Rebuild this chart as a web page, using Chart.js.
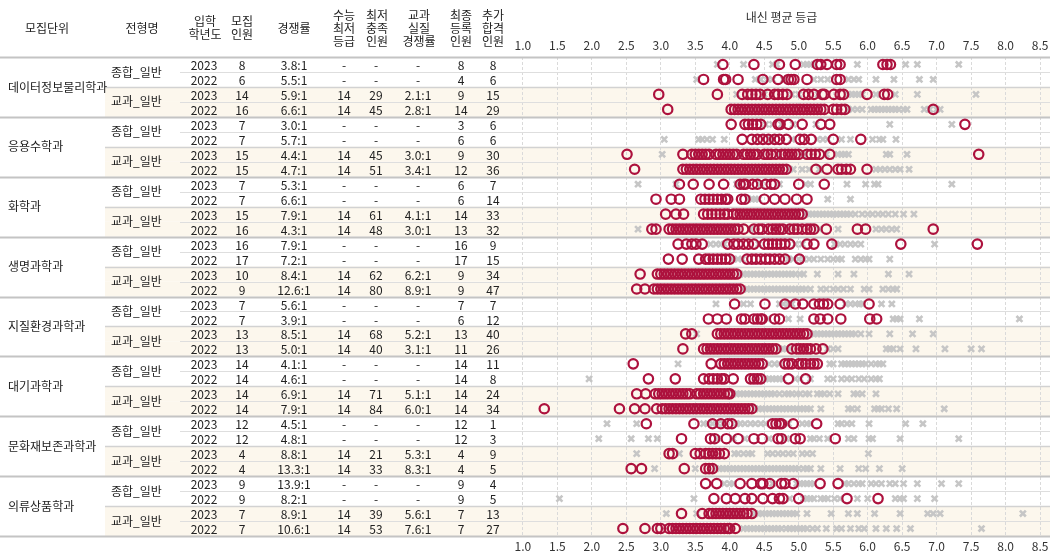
<!DOCTYPE html>
<html>
<head>
<meta charset="utf-8">
<script src="https://cdn.jsdelivr.net/npm/chart.js@4"></script>
<style>
    body { margin: 0; background: #fff; }
    .wrap { width: 1058px; height: 559px; position: relative; }
</style>
</head>
<body>
<div class="wrap"><canvas id="chart"></canvas></div>
<script>
// 표 데이터
const departments = ["데이터정보물리학과", "응용수학과", "화학과", "생명과학과", "지질환경과학과", "대기과학과", "문화재보존과학과", "의류상품학과"]
const tracks = ["종합_일반", "교과_일반"]
const years = [2023, 2022, 2023, 2022, 2023, 2022, 2023, 2022, 2023, 2022, 2023, 2022, 2023, 2022, 2023, 2022, 2023, 2022, 2023, 2022, 2023, 2022, 2023, 2022, 2023, 2022, 2023, 2022, 2023, 2022, 2023, 2022]
const quotas = [8, 6, 14, 16, 7, 7, 15, 15, 7, 7, 15, 16, 16, 17, 10, 9, 7, 7, 13, 13, 14, 14, 14, 14, 12, 12, 4, 4, 9, 9, 7, 7]
const ratios = ["3.8:1", "5.5:1", "5.9:1", "6.6:1", "3.0:1", "5.7:1", "4.4:1", "4.7:1", "5.3:1", "6.6:1", "7.9:1", "4.3:1", "7.9:1", "7.2:1", "8.4:1", "12.6:1", "5.6:1", "3.9:1", "8.5:1", "5.0:1", "4.1:1", "4.6:1", "6.9:1", "7.9:1", "4.5:1", "4.8:1", "8.8:1", "13.3:1", "13.9:1", "8.2:1", "8.9:1", "10.6:1"]
const csatGrades = ["-", "-", 14, 14, "-", "-", 14, 14, "-", "-", 14, 14, "-", "-", 14, 14, "-", "-", 14, 14, "-", "-", 14, 14, "-", "-", 14, 14, "-", "-", 14, 14]
const metCounts = ["-", "-", 29, 45, "-", "-", 45, 51, "-", "-", 61, 48, "-", "-", 62, 80, "-", "-", 68, 40, "-", "-", 71, 84, "-", "-", 21, 33, "-", "-", 39, 53]
const realRatios = ["-", "-", "2.1:1", "2.8:1", "-", "-", "3.0:1", "3.4:1", "-", "-", "4.1:1", "3.0:1", "-", "-", "6.2:1", "8.9:1", "-", "-", "5.2:1", "3.1:1", "-", "-", "5.1:1", "6.0:1", "-", "-", "5.3:1", "8.3:1", "-", "-", "5.6:1", "7.6:1"]
const enrolled = [8, 4, 9, 14, 3, 6, 9, 12, 6, 6, 14, 13, 16, 17, 9, 9, 7, 6, 13, 11, 14, 14, 14, 14, 12, 12, 4, 4, 9, 9, 7, 7]
const extraPassed = [8, 6, 15, 29, 6, 6, 30, 36, 7, 14, 33, 32, 9, 15, 34, 47, 7, 12, 40, 26, 11, 8, 24, 34, 1, 3, 9, 5, 4, 5, 13, 27]

const tickValues = [1.0, 1.5, 2.0, 2.5, 3.0, 3.5, 4.0, 4.5, 5.0, 5.5, 6.0, 6.5, 7.0, 7.5, 8.0, 8.5]

// 합격자(빨강) / 불합격자(회색) 내신 등급, 학과별 4행
const passPhysics = [
    [3.9, 4.35, 4.72, 4.95, 5.27, 5.32, 5.41, 5.55, 5.6, 6.22, 6.28, 6.33],
    [3.62, 3.91, 3.94, 4.12, 4.48, 4.7, 4.85, 4.89, 4.93, 5.12, 5.55, 5.6],
    [2.97, 3.82, 4.18, 4.26, 4.32, 4.38, 4.44, 4.55, 4.65, 4.7, 4.77, 4.83, 5.07, 5.14, 5.22, 5.34, 5.37, 5.51, 5.6, 5.65, 5.99, 6.24, 6.29],
    [3.1, 4.02, 4.07, 4.12, 4.17, 4.22, 4.27, 4.32, 4.37, 4.42, 4.47, 4.52, 4.57, 4.62, 4.67, 4.72, 4.77, 4.82, 4.87, 4.92, 4.97, 5.02, 5.07, 5.12, 5.17, 5.22, 5.27, 5.32, 5.37, 5.5, 5.55, 5.62, 5.67, 6.95]
]
const failPhysics = [
    [3.82, 4.2, 4.62, 4.68, 5.07, 5.12, 5.17, 5.22, 5.85, 6.55, 6.72, 7.32],
    [3.52, 4.37, 4.45, 4.55, 4.62, 4.78, 5.22, 5.32, 5.42, 5.72, 5.8, 5.87, 6.12, 6.38, 6.75, 6.95],
    [4.1, 4.5, 4.9, 5.0, 5.28, 5.72, 5.77, 5.82, 5.87, 5.92, 6.12, 6.4, 6.72, 7.57],
    [5.72, 5.78, 5.85, 5.92, 6.05, 6.1, 6.15, 6.2, 6.25, 6.3, 6.35, 6.4, 6.45, 6.52, 6.57, 6.82, 6.9, 7.0, 7.05]
]
const passMath = [
    [4.02, 4.22, 4.27, 4.33, 4.39, 4.45, 4.7, 4.73, 4.85, 5.05, 5.32, 5.45, 7.41],
    [4.18, 4.32, 4.4, 4.48, 4.56, 4.65, 4.72, 4.82, 5.02, 5.08, 5.18, 5.5, 5.9],
    [2.51, 3.32, 3.45, 3.5, 3.55, 3.6, 3.65, 3.7, 3.8, 3.85, 3.9, 3.95, 4.0, 4.05, 4.1, 4.2, 4.25, 4.3, 4.35, 4.4, 4.5, 4.55, 4.6, 4.67, 4.75, 4.8, 4.85, 4.9, 4.95, 5.0, 5.12, 5.18, 5.24, 5.3, 5.45, 7.61],
    [2.62, 3.32, 3.37, 3.42, 3.47, 3.52, 3.57, 3.62, 3.67, 3.72, 3.77, 3.82, 3.87, 3.92, 3.97, 4.02, 4.07, 4.12, 4.17, 4.22, 4.27, 4.32, 4.37, 4.42, 4.47, 4.52, 4.57, 4.62, 4.67, 4.72, 4.77, 4.82, 5.25, 5.41, 5.57, 5.62, 5.69, 5.75, 5.99]
]
const failMath = [
    [4.52, 4.62, 4.75, 4.92, 5.25, 6.32, 7.22],
    [3.05, 3.55, 3.6, 3.67, 3.75, 3.92, 4.6, 4.9, 5.27, 5.35, 5.42, 5.62, 5.75, 6.07, 6.17, 6.22, 6.41],
    [3.02, 4.15, 4.45, 4.7, 5.07, 5.4, 5.57, 5.62, 5.67, 5.72, 6.27, 6.32, 6.57],
    [4.87, 4.92, 5.05, 5.15, 5.3, 6.12, 6.18, 6.25, 6.32, 6.4, 6.47, 6.6]
]
const passChem = [
    [3.27, 3.47, 3.7, 3.91, 4.15, 4.2, 4.23, 4.33, 4.4, 4.52, 4.6, 4.65, 5.0, 5.37],
    [2.93, 3.15, 3.27, 3.58, 3.64, 3.7, 3.76, 3.82, 3.88, 3.94, 3.97, 4.17, 4.22, 4.5, 4.65, 4.8, 4.97, 5.12],
    [3.07, 3.22, 3.33, 3.62, 3.68, 3.74, 3.8, 3.86, 3.92, 3.97, 4.05, 4.1, 4.15, 4.2, 4.25, 4.3, 4.35, 4.4, 4.45, 4.5, 4.55, 4.6, 4.65, 4.7, 4.75, 4.8, 4.85, 4.9, 4.95, 5.0, 5.05],
    [2.87, 2.93, 3.12, 3.17, 3.22, 3.27, 3.32, 3.37, 3.42, 3.47, 3.52, 3.57, 3.62, 3.67, 3.72, 3.77, 3.82, 3.87, 3.92, 3.97, 4.02, 4.07, 4.12, 4.2, 4.35, 4.42, 4.47, 4.56, 4.62, 4.67, 4.72, 4.77, 4.87, 4.93, 4.98, 5.05, 5.12, 5.17, 5.22, 5.4, 5.85, 5.97, 6.95]
]
const failChem = [
    [2.67, 3.22, 4.1, 4.45, 4.72, 5.1, 5.17, 5.7, 5.97, 6.1, 6.15, 7.22],
    [4.27, 4.32, 4.37, 4.42, 5.42, 5.75],
    [5.1, 5.15, 5.2, 5.25, 5.3, 5.35, 5.4, 5.45, 5.5, 5.55, 5.6, 5.65, 5.7, 5.75, 5.82, 5.92, 6.0, 6.07, 6.15, 6.22, 6.3, 6.4, 6.52, 6.67],
    [2.67, 4.3, 4.82, 5.3, 5.57, 6.12, 6.2, 6.27, 6.35, 6.42]
]
const passBio = [
    [3.25, 3.37, 3.45, 3.51, 3.6, 3.97, 4.06, 4.12, 4.2, 4.27, 4.35, 4.5, 4.56, 4.62, 4.68, 4.74, 4.8, 4.87, 5.12, 5.22, 5.48, 6.48, 7.59],
    [3.11, 3.31, 3.55, 3.65, 3.7, 3.76, 3.82, 3.88, 3.94, 4.0, 4.25, 4.32, 4.38, 4.45, 4.52, 4.58, 4.65, 4.72, 4.8, 5.01],
    [2.7, 2.95, 3.0, 3.05, 3.1, 3.15, 3.2, 3.25, 3.3, 3.35, 3.4, 3.45, 3.5, 3.55, 3.6, 3.65, 3.7, 3.75, 3.8, 3.85, 3.9, 3.95, 4.0, 4.05, 4.1],
    [2.65, 2.77, 2.9, 2.95, 3.0, 3.05, 3.1, 3.15, 3.2, 3.25, 3.3, 3.35, 3.4, 3.45, 3.5, 3.55, 3.6, 3.65, 3.7, 3.75, 3.8, 3.85, 3.9, 3.95, 4.0, 4.05, 4.1, 4.15]
]
const failBio = [
    [3.72, 3.8, 3.87, 3.92, 4.42, 4.95, 5.05, 5.52, 5.6, 5.67, 5.75, 5.82, 5.9, 6.97],
    [4.05, 4.12, 4.18, 4.85, 4.92, 5.0, 5.07, 5.15, 5.22, 5.32, 5.42, 5.5, 5.57, 5.62, 5.82, 5.9, 5.97, 6.02, 6.32],
    [4.15, 4.2, 4.25, 4.3, 4.35, 4.4, 4.45, 4.5, 4.55, 4.6, 4.65, 4.7, 4.75, 4.8, 4.85, 4.9, 4.95, 5.02, 5.07, 5.27, 5.57, 5.8, 6.3, 6.6],
    [4.2, 4.25, 4.3, 4.35, 4.4, 4.45, 4.5, 4.55, 4.6, 4.65, 4.7, 4.75, 4.8, 4.85, 4.9, 4.95, 5.0, 5.05, 5.1, 5.17, 5.32, 5.4, 5.5, 5.57, 5.65, 5.75, 5.95, 6.02, 6.22, 6.3, 6.37, 6.42]
]
const passGeo = [
    [4.07, 4.51, 4.8, 4.95, 5.06, 5.22, 5.3, 5.36, 5.42, 5.6, 6.02],
    [3.69, 3.82, 3.95, 4.17, 4.22, 4.35, 4.4, 4.45, 4.47, 4.65, 4.72, 5.22, 5.31, 5.42, 5.61, 6.03, 6.13],
    [3.36, 3.45, 3.82, 3.87, 3.92, 3.97, 4.02, 4.07, 4.12, 4.17, 4.22, 4.27, 4.32, 4.37, 4.42, 4.47, 4.52, 4.57, 4.62, 4.67, 4.72, 4.77, 4.82, 4.87, 4.92, 4.97, 5.02, 5.07, 5.12],
    [3.32, 3.62, 3.67, 3.72, 3.77, 3.82, 3.87, 3.92, 3.97, 4.02, 4.07, 4.12, 4.17, 4.22, 4.27, 4.32, 4.37, 4.42, 4.47, 4.52, 4.57, 4.62, 4.67, 4.9, 4.97, 5.02, 5.07, 5.12, 5.17, 5.25, 5.35]
]
const failGeo = [
    [3.8, 4.2, 4.3, 4.72, 4.78, 4.85, 4.9, 5.68, 5.75, 5.82, 5.88, 5.92, 6.2, 6.35],
    [4.55, 4.85, 5.02, 6.37, 6.42, 6.47, 6.75, 8.2],
    [3.52, 5.17, 5.22, 5.27, 5.32, 5.37, 5.42, 5.47, 5.52, 5.57, 5.62, 5.67, 5.72, 5.77, 5.82, 5.9, 6.02, 6.32, 6.65, 6.95],
    [4.72, 4.77, 4.82, 4.87, 5.42, 5.5, 5.57, 6.27, 6.32, 6.37, 6.47, 6.7, 7.12, 7.5, 7.65]
]
const passAtmos = [
    [2.6, 3.73, 3.87, 3.92, 3.97, 4.02, 4.07, 4.12, 4.17, 4.22, 4.27, 4.32, 4.37, 4.42, 4.47, 4.8, 4.85, 4.9, 5.0, 5.05, 5.1, 5.17, 5.22, 5.27],
    [2.82, 3.21, 3.62, 3.7, 3.76, 3.82, 3.88, 3.92, 4.05, 4.3, 4.35, 4.4, 4.45, 4.85, 5.1],
    [2.65, 2.78, 2.92, 2.97, 3.02, 3.07, 3.12, 3.17, 3.22, 3.27, 3.32, 3.37, 3.42, 3.52, 3.57, 3.62, 3.67, 3.72, 3.77, 3.82, 3.87, 3.92, 3.97, 4.0],
    [1.31, 2.4, 2.62, 2.77, 2.94, 3.02, 3.07, 3.12, 3.17, 3.22, 3.27, 3.32, 3.37, 3.42, 3.47, 3.52, 3.57, 3.62, 3.67, 3.72, 3.77, 3.82, 3.87, 3.92, 3.97, 4.02, 4.07, 4.12, 4.17, 4.22, 4.27, 4.32]
]
const failAtmos = [
    [3.25, 4.57, 4.65, 4.72, 5.45, 5.5, 5.62, 5.67, 5.72, 5.77, 5.82, 5.87, 5.92, 5.97, 6.05, 6.12, 6.17, 6.22],
    [1.96, 4.52, 4.57, 4.62, 4.67, 4.72, 4.77, 4.95, 5.02, 5.17, 5.42, 5.5, 5.62, 5.7, 5.77, 5.87, 5.95, 6.05, 6.12, 6.17],
    [4.05, 4.1, 4.15, 4.2, 4.25, 4.3, 4.35, 4.4, 4.45, 4.5, 4.55, 4.6, 4.65, 4.72, 4.8, 4.85, 4.9, 4.97, 5.02, 5.1, 5.15, 5.27, 5.32, 5.37, 5.45, 5.57, 5.8, 5.85, 5.92, 6.12],
    [4.37, 4.42, 4.47, 4.52, 4.57, 4.62, 4.67, 4.72, 4.77, 4.82, 4.87, 4.92, 4.97, 5.02, 5.07, 5.12, 5.17, 5.32, 5.72, 5.77, 5.85, 6.1, 6.15, 6.2, 6.3, 6.42, 7.11]
]
const passConserv = [
    [2.79, 3.48, 3.75, 3.87, 3.97, 4.03, 4.62, 4.67, 4.72, 4.75, 4.92, 5.26],
    [3.3, 3.72, 3.78, 3.95, 4.12, 4.35, 4.47, 4.7, 4.75, 4.95, 5.02, 5.53],
    [3.12, 3.17, 3.5, 3.57, 3.65, 3.7, 3.75, 3.8, 3.85, 3.92],
    [2.57, 2.72, 3.34, 3.65, 3.7, 3.75]
]
const failConserv = [
    [2.22, 2.65, 3.62, 3.68, 3.75, 3.82, 3.9, 4.1, 4.15, 4.22, 4.3, 4.37, 4.45, 4.52, 4.85, 5.05, 5.12, 5.17, 5.57, 5.62, 5.7, 5.77, 6.02, 6.55, 6.8],
    [2.1, 2.57, 2.82, 2.95, 3.82, 4.05, 4.22, 4.57, 4.82, 5.17, 5.22, 5.3, 5.42, 5.72, 5.8, 6.02, 6.07, 6.47, 7.32],
    [2.65, 3.27, 4.07, 4.12, 4.2, 4.27, 4.32, 4.55, 4.62, 4.7, 4.77, 4.85, 4.92, 5.05, 5.12, 5.2, 6.01],
    [2.91, 3.5, 3.8, 3.85, 3.9, 3.95, 4.0, 4.05, 4.1, 4.15, 4.2, 4.25, 4.3, 4.35, 4.4, 4.45, 4.5, 4.55, 4.6, 4.65, 4.7, 4.75, 4.8, 4.85, 4.9, 4.95, 5.0, 5.07, 5.12, 5.17, 5.32, 5.6, 5.87, 5.97, 6.17, 6.5]
]
const passFashion = [
    [3.65, 3.81, 4.15, 4.32, 4.45, 4.48, 4.58, 4.75, 4.8, 4.92, 5.31, 5.57],
    [3.77, 3.95, 4.08, 4.22, 4.32, 4.48, 4.62, 4.72, 4.77, 5.0, 5.7, 6.15],
    [3.3, 3.6, 3.7, 3.75, 3.8, 3.85, 3.9, 3.95, 4.0, 4.05, 4.1, 4.15, 4.2, 4.25, 4.32],
    [2.45, 2.77, 2.95, 3.0, 3.12, 3.17, 3.22, 3.27, 3.32, 3.37, 3.42, 3.47, 3.52, 3.57, 3.62, 3.67, 3.72, 3.77, 3.82, 3.87, 3.92, 3.97, 4.0, 4.08]
]
const failFashion = [
    [3.92, 4.0, 4.05, 4.62, 4.97, 5.02, 5.07, 5.12, 5.17, 5.22, 5.67, 5.72, 5.8, 5.87, 5.92, 6.05, 6.12, 6.2, 6.32, 6.4, 6.52, 6.72, 7.07, 7.32],
    [1.53, 3.48, 4.87, 5.07, 5.12, 5.17, 5.22, 5.32, 5.37, 5.42, 5.52, 5.6, 5.85, 6.0, 6.4, 6.47, 6.52, 6.72, 6.97],
    [3.08, 3.52, 4.37, 4.42, 4.47, 4.52, 4.57, 4.62, 4.67, 4.72, 4.77, 4.82, 4.87, 4.92, 4.97, 5.12, 5.47, 5.72, 5.85, 6.1, 6.47, 6.87, 6.95, 7.05, 8.25],
    [4.2, 4.25, 4.3, 4.35, 4.4, 4.45, 4.5, 4.55, 4.6, 4.65, 4.7, 4.75, 4.82, 4.87, 4.92, 4.97, 5.02, 5.07, 5.12, 5.2, 5.27, 5.4, 5.55, 5.62, 5.75, 5.87, 5.95, 6.12, 6.27, 6.42, 6.62, 7.65]
]

const passRows = [passPhysics, passMath, passChem, passBio, passGeo, passAtmos, passConserv, passFashion].flat()
const failRows = [failPhysics, failMath, failChem, failBio, failGeo, failAtmos, failConserv, failFashion].flat()

const toPoints = rows => rows.flatMap((vals, i) => vals.map(v => ({ x: v, y: i })))

const RED = "#ad113d"
const GREY = "#c6c6c6"
const BEIGE = "#fcf7ed"
const FONT = "'Noto Sans CJK KR', 'Noto Sans', sans-serif"

// 헤더 (x 중심, 줄들)
const headers = [
    [47, ["모집단위"]],
    [142, ["전형명"]],
    [205, ["입학", "학년도"]],
    [242, ["모집", "인원"]],
    [294, ["경쟁률"]],
    [344, ["수능", "최저", "등급"]],
    [377, ["최저", "충족", "인원"]],
    [419, ["교과", "실질", "경쟁률"]],
    [461, ["최종", "등록", "인원"]],
    [493, ["추가", "합격", "인원"]]
]
const columns = [
    [204, years], [242, quotas], [294, ratios], [344, csatGrades],
    [376, metCounts], [418, realRatios], [461, enrolled], [493, extraPassed]
]

const tablePlugin = {
    id: "table",
    beforeDraw: chart => {
        const ctx = chart.ctx, y = chart.scales.y, area = chart.chartArea
        ctx.save()
        ctx.fillStyle = BEIGE
        for (let i = 0; i < years.length; i++) {
            if (Math.floor(i / 2) % 2 == 1) {
                const top = y.getPixelForValue(i - 0.5)
                const bottom = y.getPixelForValue(i + 0.5)
                ctx.fillRect(105, top, area.right + 3 - 105, bottom - top)
            }
        }
        ctx.restore()
    },
    beforeDatasetsDraw: chart => {
        const ctx = chart.ctx, y = chart.scales.y, area = chart.chartArea
        ctx.save()
        for (let k = 0; k <= years.length; k++) {
            const py = Math.round(y.getPixelForValue(k - 0.5)) + 0.5
            ctx.beginPath()
            if (k % 4 == 0) {
                ctx.strokeStyle = "#c4c4c4"
                ctx.lineWidth = 2
                ctx.moveTo(0, py)
            } else if (k % 2 == 0) {
                ctx.strokeStyle = "#d2d2d2"
                ctx.lineWidth = 1.5
                ctx.moveTo(105, py)
            } else {
                ctx.strokeStyle = "#dedede"
                ctx.lineWidth = 1
                ctx.moveTo(180, py)
            }
            ctx.lineTo(area.right + 3, py)
            ctx.stroke()
        }
        ctx.restore()
    },
    afterDraw: chart => {
        const ctx = chart.ctx, y = chart.scales.y
        ctx.save()
        ctx.fillStyle = "#222"
        ctx.textBaseline = "middle"
        ctx.font = `12px ${FONT}`

        ctx.textAlign = "center"
        headers.forEach(([x, lines]) => {
            const startY = 28 - (lines.length - 1) * 13 / 2
            lines.forEach((t, j) => ctx.fillText(t, x, startY + j * 13))
        })

        ctx.textAlign = "left"
        departments.forEach((d, i) => ctx.fillText(d, 8, y.getPixelForValue(i * 4 + 1.5)))
        for (let g = 0; g < years.length / 2; g++) {
            ctx.fillText(tracks[g % 2], 111, y.getPixelForValue(g * 2 + 0.5))
        }

        ctx.textAlign = "center"
        columns.forEach(([x, vals]) => {
            vals.forEach((v, i) => ctx.fillText(String(v), x, y.getPixelForValue(i) + 1))
        })
        ctx.restore()
    }
}

const xTicks = pad => ({
    callback: v => v.toFixed(1),
    color: "#333",
    padding: pad,
    maxRotation: 0,
    autoSkip: false,
    font: { size: 12, family: FONT }
})

new Chart("chart", {
    type: "scatter",
    data: {
        datasets: [{
            label: "합격",
            data: toPoints(passRows),
            pointStyle: "circle",
            pointRadius: 4.7,
            pointBorderWidth: 2.2,
            pointBorderColor: RED,
            pointBackgroundColor: "rgba(0,0,0,0)",
            xAxisID: "x",
            yAxisID: "y",
            order: 1
        },
        {
            label: "불합격",
            data: toPoints(failRows),
            pointStyle: "crossRot",
            pointRadius: 4.2,
            pointBorderWidth: 2.6,
            pointBorderColor: GREY,
            pointBackgroundColor: GREY,
            xAxisID: "x",
            yAxisID: "y",
            order: 2
        }]
    },
    options: {
        responsive: true,
        maintainAspectRatio: false,
        animation: false,
        events: [],
        layout: { padding: { left: 516, right: 11, top: 0, bottom: 0 } },
        plugins: {
            legend: { display: false },
            tooltip: { enabled: false }
        },
        scales: {
            x: {
                type: "linear",
                position: "bottom",
                min: 0.9,
                max: 8.6,
                afterBuildTicks: s => { s.ticks = tickValues.map(v => ({ value: v })) },
                afterFit: s => { s.height = 23 },
                ticks: xTicks(3),
                grid: { color: "#dadada", lineWidth: 1, drawTicks: false },
                border: { display: false, dash: [3, 2] }
            },
            x2: {
                type: "linear",
                position: "top",
                min: 0.9,
                max: 8.6,
                afterBuildTicks: s => { s.ticks = tickValues.map(v => ({ value: v })) },
                afterFit: s => { s.height = 57 },
                ticks: xTicks(4),
                grid: { display: false, drawTicks: false },
                border: { display: false },
                title: {
                    display: true,
                    text: "내신 평균 등급",
                    color: "#333",
                    font: { size: 12, family: FONT },
                    padding: { top: 10, bottom: 0 }
                }
            },
            y: {
                type: "linear",
                min: -0.5,
                max: 31.5,
                reverse: true,
                display: false
            }
        }
    },
    plugins: [tablePlugin]
})
</script>
</body>
</html>
